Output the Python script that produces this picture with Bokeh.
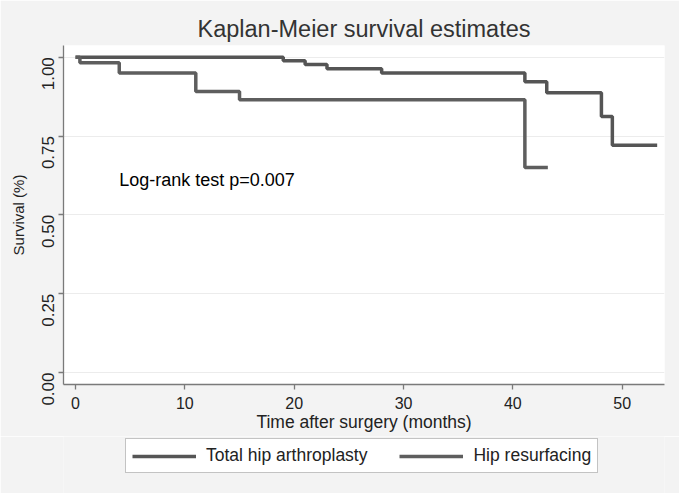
from bokeh.plotting import figure
from bokeh.models import Range1d, FixedTicker, Legend, LegendItem, Label, NumeralTickFormatter
from bokeh.layouts import column
from bokeh.embed import file_html
from bokeh.resources import INLINE
import math

# Kaplan-Meier step data
tha_time = [0, 19.0, 21.0, 23.0, 28.0, 41.1, 43.1, 48.1, 49.1, 53.2]
tha_surv = [1.0, 0.989, 0.977, 0.963, 0.950, 0.922, 0.887, 0.812, 0.721, 0.721]
hr_time = [0, 0.4, 4.0, 11.0, 15.0, 41.1, 43.2]
hr_surv = [1.0, 0.982, 0.950, 0.891, 0.865, 0.650, 0.650]
x_ticks = [0, 10, 20, 30, 40, 50]
y_ticks = [0, 0.25, 0.5, 0.75, 1.0]
series_names = ["Total hip arthroplasty", "Hip resurfacing"]
note_text = "Log-rank test p=0.007"

FONT = "Liberation Sans"
BG = "#f3f3f3"
C_THA = "#555555"
C_HR = "#5e5e5e"

p = figure(width=679, height=436, output_backend="svg", toolbar_location=None,
           x_range=Range1d(-1.1, 53.87), y_range=Range1d(-0.038, 1.037),
           min_border_left=63, min_border_right=15, min_border_top=45, min_border_bottom=52,
           background_fill_color="white", border_fill_color=BG,
           title="Kaplan-Meier survival estimates")
p.outline_line_color = None

p.title.align = "center"
p.title.text_font = FONT
p.title.text_font_size = "23.5px"
p.title.text_font_style = "normal"
p.title.text_color = "#333333"
p.title.standoff = 7

# axes
for ax in (p.xaxis[0], p.yaxis[0]):
    ax.axis_line_color = "#7a7a7a"
    ax.axis_line_width = 1.3
    ax.major_tick_line_color = "#7a7a7a"
    ax.major_tick_line_width = 1.3
    ax.major_tick_out = 5
    ax.major_tick_in = 0
    ax.minor_tick_line_color = None
    ax.major_label_text_font = FONT
    ax.major_label_text_font_size = "16px"
    ax.major_label_text_color = "#222222"
    ax.axis_label_text_font = FONT
    ax.axis_label_text_font_style = "normal"
    ax.axis_label_text_color = "#222222"

p.xaxis.ticker = FixedTicker(ticks=x_ticks)
p.xaxis.axis_label = "Time after surgery (months)"
p.xaxis.axis_label_text_font_size = "17.5px"
p.xaxis.major_label_standoff = 7
p.xaxis.axis_label_standoff = 0

p.yaxis.ticker = FixedTicker(ticks=y_ticks)
p.yaxis.formatter = NumeralTickFormatter(format="0.00")
p.yaxis.major_label_orientation = math.pi / 2
p.yaxis.major_label_text_font_size = "17px"
p.yaxis.axis_label = "Survival (%)"
p.yaxis.axis_label_text_font_size = "15px"
p.yaxis.major_label_standoff = 10
p.yaxis.axis_label_standoff = 7

p.xgrid.grid_line_color = None
p.ygrid.ticker = FixedTicker(ticks=y_ticks)
p.ygrid.grid_line_color = "#ececec"
p.ygrid.grid_line_width = 1

p.step(tha_time, tha_surv, mode="after", line_color=C_THA, line_width=3.5)
p.step(hr_time, hr_surv, mode="after", line_color=C_HR, line_width=3.5)

p.add_layout(Label(x=4.0, y=0.609, text=note_text, text_font=FONT,
                   text_font_size="18px", text_color="black", text_baseline="alphabetic"))

# legend strip below the plot (keys use off-range points so only the legend shows)
q = figure(width=679, height=57, output_backend="svg", toolbar_location=None,
           x_range=Range1d(0, 1), y_range=Range1d(0, 1),
           min_border_left=0, min_border_right=0, min_border_top=0, min_border_bottom=0,
           background_fill_color=BG, border_fill_color=BG)
q.outline_line_color = None
q.axis.visible = False
q.grid.visible = False
k1 = q.line([5, 6], [5, 6], line_color=C_THA, line_width=3.5)
k2 = q.line([5, 6], [5, 6], line_color=C_HR, line_width=3.5)

legend = Legend(items=[LegendItem(label=series_names[0], renderers=[k1]),
                       LegendItem(label=series_names[1], renderers=[k2])],
                orientation="horizontal", location=(62, 20))
legend.label_text_font = FONT
legend.label_text_font_size = "17.5px"
legend.label_text_color = "#222222"
legend.glyph_width = 64
legend.glyph_height = 20
legend.label_height = 20
legend.label_standoff = 10
legend.spacing = 32
legend.padding = 6
legend.margin = 0
legend.border_line_color = "#888888"
legend.border_line_width = 1.3
legend.background_fill_color = "white"
legend.background_fill_alpha = 1
q.add_layout(legend, "center")

layout = column(p, q, spacing=0)
open("out.html", "w").write(file_html(layout, INLINE))
